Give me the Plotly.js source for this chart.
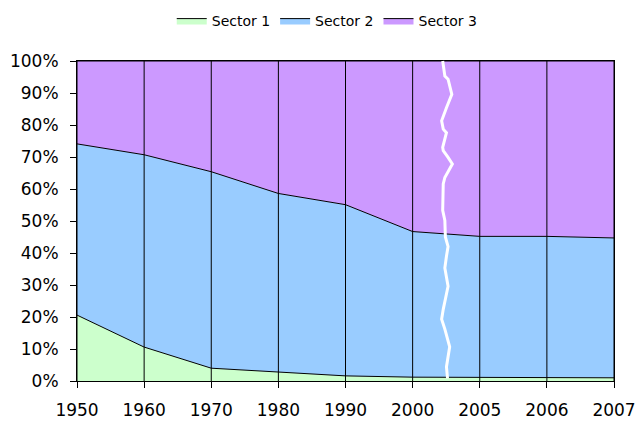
<!DOCTYPE html>
<html><head><meta charset="utf-8">
<script src="https://cdn.plot.ly/plotly-3.0.1.min.js"></script>
<style>html,body{margin:0;padding:0;background:#fff}#chart{width:639px;height:422px}</style>
</head><body><div id="chart"></div>
<script>
var years = ['1950','1960','1970','1980','1990','2000','2005','2006','2007'];
var sector1 = [20.6, 10.6, 4.0, 2.8, 1.6, 1.2, 1.2, 1.2, 1.0];
var sector2 = [53.5, 60.1, 61.4, 55.8, 53.5, 45.5, 44.0, 44.0, 43.7];
var sector3 = [25.9, 29.3, 34.6, 41.4, 44.9, 53.3, 54.8, 54.8, 55.3];
var seriesNames = ['Sector 1', 'Sector 2', 'Sector 3'];
var seriesColors = ['#CCFFCC', '#99CCFF', '#CC99FF'];
// axis-break squiggle, in paper coordinates (x, y)
var breakX = [0.681,0.685,0.691,0.698,0.688,0.679,0.682,0.688,0.681,0.682,0.691,0.699,0.685,0.682,0.681,0.685,0.686,0.691,0.688,0.685,0.691,0.682,0.679,0.685,0.694,0.688,0.690];
var breakY = [1.000,0.953,0.943,0.896,0.854,0.813,0.787,0.776,0.730,0.720,0.699,0.678,0.636,0.616,0.533,0.502,0.450,0.420,0.390,0.353,0.296,0.224,0.193,0.162,0.107,0.044,0.008];

var data = [sector1, sector2, sector3].map(function(v, i){
  return {x: years, y: v, name: seriesNames[i], type: 'scatter', mode: 'lines',
    stackgroup: 'one', groupnorm: 'percent', fillcolor: seriesColors[i],
    line: {color: '#000', width: 1}, hoverinfo: 'x+y+name'};
});
var path = breakX.map(function(x, i){ return (i ? 'L' : 'M') + x + ',' + breakY[i]; }).join(' ');
// vertical category grid lines drawn above the filled areas (category index positions)
var gridShapes = years.map(function(yr, i){
  return {type: 'line', xref: 'x', yref: 'paper', x0: i, x1: i, y0: 0, y1: 1,
    line: {color: '#000', width: 1}, layer: 'above'};
});
var layout = {
  width: 639, height: 422,
  margin: {l: 77, r: 25, t: 61, b: 41, autoexpand: false},
  paper_bgcolor: '#fff', plot_bgcolor: '#fff',
  font: {family: 'DejaVu Sans', color: '#000', size: 17},
  showlegend: true,
  legend: {orientation: 'h', x: 0.466, xanchor: 'center', y: 1.125, yanchor: 'middle',
    font: {size: 14}, traceorder: 'normal', itemwidth: 30},
  xaxis: {type: 'category', range: [0, 8], showgrid: false,
    showline: true, linecolor: '#000', linewidth: 1, mirror: true, layer: 'above traces',
    ticks: 'outside', ticklen: 6, tickcolor: '#000', tickangle: 0, ticklabelstandoff: 8,
    fixedrange: true, zeroline: false},
  yaxis: {range: [0, 100], dtick: 10, ticksuffix: '%', showgrid: false,
    showline: true, linecolor: '#000', linewidth: 1, mirror: true, layer: 'above traces',
    ticks: 'outside', ticklen: 6, tickcolor: '#000', ticklabelstandoff: 8,
    zeroline: false, fixedrange: true},
  shapes: gridShapes.concat([{type: 'path', xref: 'paper', yref: 'paper', path: path,
    line: {color: '#fff', width: 3}, layer: 'above'}])
};
Plotly.newPlot('chart', data, layout, {displayModeBar: false, staticPlot: true});
</script></body></html>
